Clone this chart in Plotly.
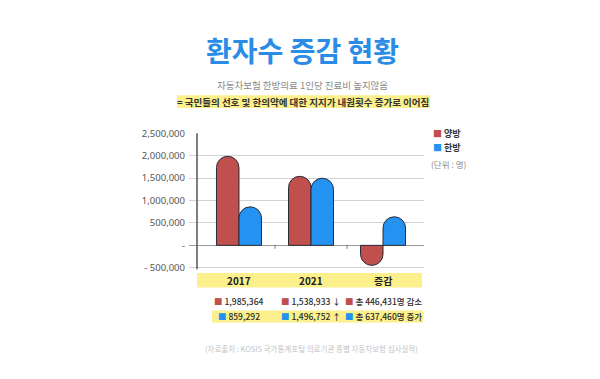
import plotly.graph_objects as go

W, H = 600, 379
categories = ["2017", "2021", "증감"]
western = [1985364, 1538933, -446431]     # 양방
korean = [859292, 1496752, 637460]         # 한방
row1_labels = ["1,985,364", "1,538,933 ↓", "총 446,431명 감소"]
row2_labels = ["859,292", "1,496,752 ↑", "총 637,460명 증가"]
y_ticks = [-500000, 0, 500000, 1000000, 1500000, 2000000, 2500000]
y_ticktext = ["- 500,000", "-", "500,000", "1,000,000", "1,500,000", "2,000,000", "2,500,000"]

RED = "#C0504D"
BLUE = "#2392F0"
YELLOW = "#FBF08C"
KR = "Noto Sans CJK KR"


def px(x):
    return x / W


def py(y):
    return 1 - y / H


fig = go.Figure()
fig.add_bar(x=categories, y=western, name="양방",
            marker=dict(color=RED, line=dict(color="#2b2b35", width=1), cornerradius=12))
fig.add_bar(x=categories, y=korean, name="한방",
            marker=dict(color=BLUE, line=dict(color="#2b2b35", width=1), cornerradius=12))

shapes = []
# category band
shapes.append(dict(type="rect", xref="paper", yref="paper", x0=px(197), x1=px(422),
                   y0=py(289), y1=py(274), fillcolor=YELLOW, line_width=0, layer="below"))
# row2 band
shapes.append(dict(type="rect", xref="paper", yref="paper", x0=px(212), x1=px(423),
                   y0=py(325), y1=py(312.5), fillcolor=YELLOW, line_width=0, layer="below"))
# subtitle highlight band
shapes.append(dict(type="rect", xref="paper", yref="paper", x0=px(177), x1=px(430),
                   y0=py(104), y1=py(91), fillcolor=YELLOW, line_width=0, layer="below"))
# vertical axis line
shapes.append(dict(type="line", xref="paper", yref="paper", x0=px(197), x1=px(197),
                   y0=py(270), y1=py(130), line=dict(color="#555555", width=1.5)))
# small tick marks at category boundaries
for b in [0.5, 1.5]:
    shapes.append(dict(type="line", xref="x", yref="paper", x0=b, x1=b,
                       y0=py(249), y1=py(245), line=dict(color="#777777", width=1)))

ann = []
ann.append(dict(text="<b>환자수 증감 현황</b>", x=px(302), y=py(44), xref="paper", yref="paper",
                showarrow=False, xanchor="center", yanchor="middle",
                font=dict(family=KR, size=28, color="#2A8CE6")))
ann.append(dict(text="자동차보험 한방의료 1인당 진료비 높지않음", x=px(302), y=py(80), xref="paper",
                yref="paper", showarrow=False, xanchor="center", yanchor="middle",
                font=dict(family=KR, size=9.5, color="#8a8a8a")))
ann.append(dict(text="<b>= 국민들의 선호 및 한의약에 대한 지지가 내원횟수 증가로 이어짐</b>", x=px(303), y=py(97.5),
                xref="paper", yref="paper", showarrow=False, xanchor="center", yanchor="middle",
                font=dict(family=KR, size=9.5, color="#333333")))
# legend
ann.append(dict(text=f"<span style='color:{RED}'>■</span> <b>양방</b>", x=px(431), y=py(130), xref="paper",
                yref="paper", showarrow=False, xanchor="left", yanchor="middle",
                font=dict(family=KR, size=9, color="#333333")))
ann.append(dict(text=f"<span style='color:{BLUE}'>■</span> <b>한방</b>", x=px(431), y=py(145), xref="paper",
                yref="paper", showarrow=False, xanchor="left", yanchor="middle",
                font=dict(family=KR, size=9, color="#333333")))
ann.append(dict(text="(단위 : 명)", x=px(429), y=py(162), xref="paper",
                yref="paper", showarrow=False, xanchor="left", yanchor="middle",
                font=dict(family=KR, size=8.5, color="#8a8a8a")))
# category labels and table rows
for i, (c, r1, r2) in enumerate(zip(categories, row1_labels, row2_labels)):
    ann.append(dict(text=f"<b>{c}</b>", x=i, y=py(282), xref="x", yref="paper", showarrow=False,
                    xanchor="center", yanchor="middle", font=dict(family=KR, size=10, color="#222222")))
    ann.append(dict(text=f"<span style='color:{RED}'>■</span> {r1}", x=i, y=py(303), xref="x", yref="paper",
                    showarrow=False, xanchor="center", yanchor="middle",
                    font=dict(family=KR, size=8.5, color="#2a2a2a", weight=500)))
    ann.append(dict(text=f"<span style='color:{BLUE}'>■</span> {r2}", x=i, y=py(318.5), xref="x", yref="paper",
                    showarrow=False, xanchor="center", yanchor="middle",
                    font=dict(family=KR, size=8.5, color="#2a2a2a", weight=500)))
ann.append(dict(text="(자료출처 : KOSIS 국가통계포털 의료기관 종별 자동차보험 심사실적)", x=px(311), y=py(352),
                xref="paper", yref="paper", showarrow=False, xanchor="center", yanchor="middle",
                font=dict(family=KR, size=7.5, color="#c4c4c4")))

fig.update_layout(
    width=W, height=H, margin=dict(l=0, r=0, t=0, b=0),
    paper_bgcolor="white", plot_bgcolor="white",
    barmode="group", bargap=0.375, bargroupgap=0,
    showlegend=False,
    shapes=shapes, annotations=ann,
    xaxis=dict(domain=[px(189), px(424)], range=[-0.694, 2.569], showticklabels=False,
               showgrid=False, zeroline=False, showline=False, type="category"),
    yaxis=dict(domain=[py(270.9), py(130)], range=[-550000, 2500000], tickvals=y_ticks,
               ticktext=y_ticktext, showgrid=True, gridcolor="#d2d2d2", gridwidth=1,
               zeroline=True, zerolinecolor="#9a9a9a", zerolinewidth=1.2, showline=False,
               ticks="", ticklabelstandoff=3,
               tickfont=dict(family="Noto Sans", size=9.5, color="#555555")),
)

fig.write_html("out.html", config={"displayModeBar": False},
               post_script="document.body.style.margin='0';")
